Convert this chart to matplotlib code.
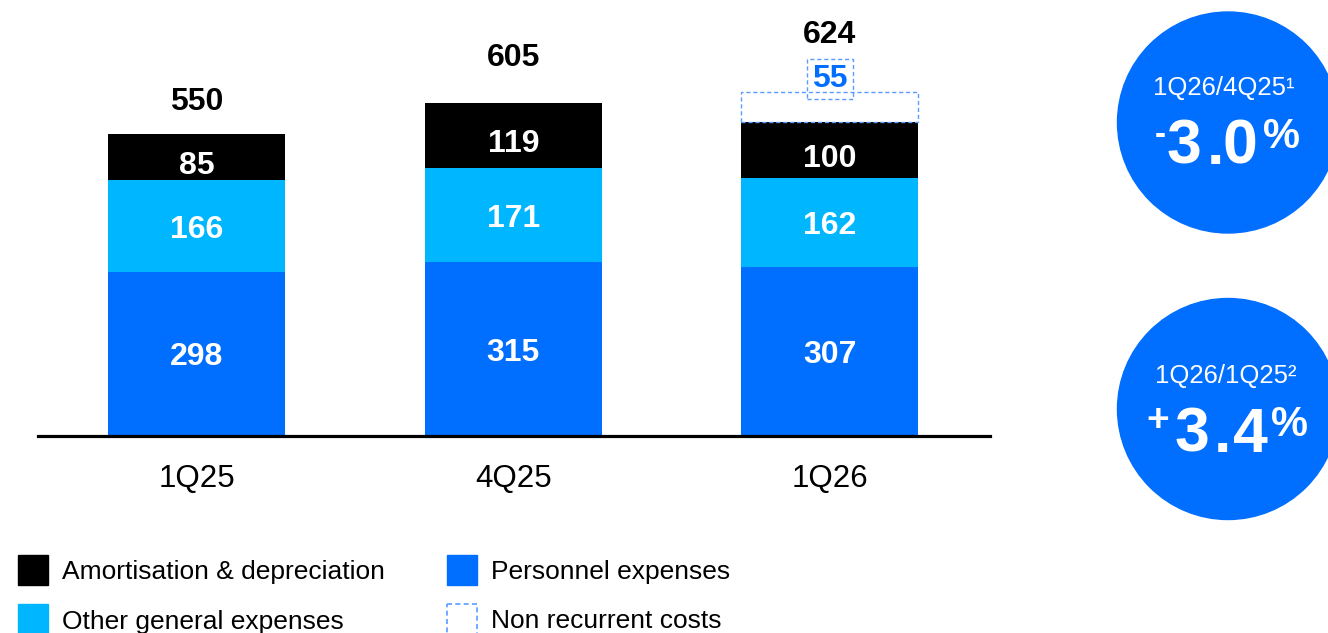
import numpy as np
import matplotlib
matplotlib.use('Agg')
import matplotlib.pyplot as plt
from matplotlib.patches import Circle, Rectangle

plt.rcParams['font.family'] = ['Liberation Sans', 'DejaVu Sans']

# data
quarters = ['1Q25', '4Q25', '1Q26']
personnel = [298, 315, 307]
other_general = [166, 171, 162]
amortisation = [85, 119, 100]
non_recurrent = [0, 0, 55]
totals = [550, 605, 624]

BLUE = '#006EFF'
CYAN = '#00B6FF'
DASH = '#5A9CFF'

fig = plt.figure(figsize=(13.28, 6.33), dpi=100)
W, H = 1328, 633
px_per_unit = 0.551

ax = fig.add_axes([38 / W, (H - 436) / H, 952 / W, 436 / H])
x = np.arange(len(quarters))
bw = 0.56
bottom2 = np.array(personnel) + np.array(other_general)
bottom3 = bottom2 + np.array(amortisation)

ax.bar(x, personnel, width=bw, color=BLUE)
ax.bar(x, other_general, bottom=personnel, width=bw, color=CYAN)
ax.bar(x, amortisation, bottom=bottom2, width=bw, color='black')

# non recurrent costs: dashed outline box
nrc_idx = [i for i, v in enumerate(non_recurrent) if v > 0]
ax.bar(x[nrc_idx], np.array(non_recurrent)[nrc_idx], bottom=bottom3[nrc_idx],
       width=bw, fill=False, edgecolor=DASH, linestyle=(0, (3, 2)), linewidth=1.0)

ax.set_xlim(-0.502, 2.506)
ax.set_ylim(0, 436 / px_per_unit)
for s in ['top', 'left', 'right']:
    ax.spines[s].set_visible(False)
ax.spines['bottom'].set_linewidth(2.3)
ax.set_yticks([])
ax.set_xticks(x)
ax.set_xticklabels(quarters, fontsize=22.5)
ax.tick_params(axis='x', length=0, pad=20)

# segment labels
lab_kw = dict(ha='center', va='center_baseline', color='white', fontsize=23, fontweight='bold')
for i in range(len(quarters)):
    ax.text(x[i], personnel[i] / 2, str(personnel[i]), **lab_kw)
    ax.text(x[i], personnel[i] + other_general[i] / 2, str(other_general[i]), **lab_kw)
    ax.annotate(str(amortisation[i]), (x[i], bottom2[i] + amortisation[i] / 2),
                xytext=(0, -4), textcoords='offset points', **lab_kw)

# non recurrent value label in dashed box
for i in nrc_idx:
    ax.annotate(str(non_recurrent[i]), (x[i], bottom3[i] + non_recurrent[i]),
                xytext=(0, 12), textcoords='offset points', ha='center',
                va='center_baseline', color=BLUE, fontsize=23, fontweight='bold',
                bbox=dict(boxstyle='square,pad=0.17', fill=False, edgecolor=DASH,
                          linestyle=(0, (3, 2)), linewidth=1.0))

# totals
total_gap = [25, 35, 44]  # points above the stack
for i in range(len(quarters)):
    top = bottom3[i] + non_recurrent[i]
    ax.annotate(str(totals[i]), (x[i], top), xytext=(0, total_gap[i]),
                textcoords='offset points', ha='center', va='center_baseline',
                fontsize=23, fontweight='bold', color='black')

# overlay in pixel coordinates for circles and legend
ov = fig.add_axes([0, 0, 1, 1])
ov.set_xlim(0, W)
ov.set_ylim(H, 0)
ov.axis('off')


def spaced(ov, chars, xs, y, size):
    for c, xx in zip(chars, xs):
        ov.text(xx, y, c, ha='center', va='center_baseline', color='white',
                fontsize=size, fontweight='bold')


ov.add_patch(Circle((1228, 122.5), 110.5, color=BLUE))
ov.text(1224, 86, '1Q26/4Q25¹', ha='center', va='center_baseline', color='white', fontsize=18.5)
ov.text(1160, 132, '-', ha='center', va='center_baseline', color='white', fontsize=24, fontweight='bold')
spaced(ov, '3.0', [1184, 1215, 1240], 141, 45)
ov.text(1281, 133, '%', ha='center', va='center_baseline', color='white', fontsize=30, fontweight='bold')

ov.add_patch(Circle((1228, 409), 110.5, color=BLUE))
ov.text(1226, 374, '1Q26/1Q25²', ha='center', va='center_baseline', color='white', fontsize=18.5)
ov.text(1158, 417, '+', ha='center', va='center_baseline', color='white', fontsize=28, fontweight='bold')
spaced(ov, '3.4', [1192, 1222, 1250], 429, 45)
ov.text(1289, 421, '%', ha='center', va='center_baseline', color='white', fontsize=30, fontweight='bold')

# legend
leg = [('Amortisation & depreciation', 'black', 18, 570),
       ('Other general expenses', CYAN, 18, 619),
       ('Personnel expenses', BLUE, 447, 570),
       ('Non recurrent costs', None, 447, 619)]
for label, col, lx, ly in leg:
    if col is None:
        ov.add_patch(Rectangle((lx, ly - 15), 30, 30, fill=False, edgecolor=DASH,
                               linestyle=(0, (3, 2)), linewidth=1.2))
    else:
        ov.add_patch(Rectangle((lx, ly - 15), 30, 30, color=col))
    ov.text(lx + 44, ly, label, ha='left', va='center_baseline', fontsize=19, color='black')

fig.savefig('out.png', dpi=100)
